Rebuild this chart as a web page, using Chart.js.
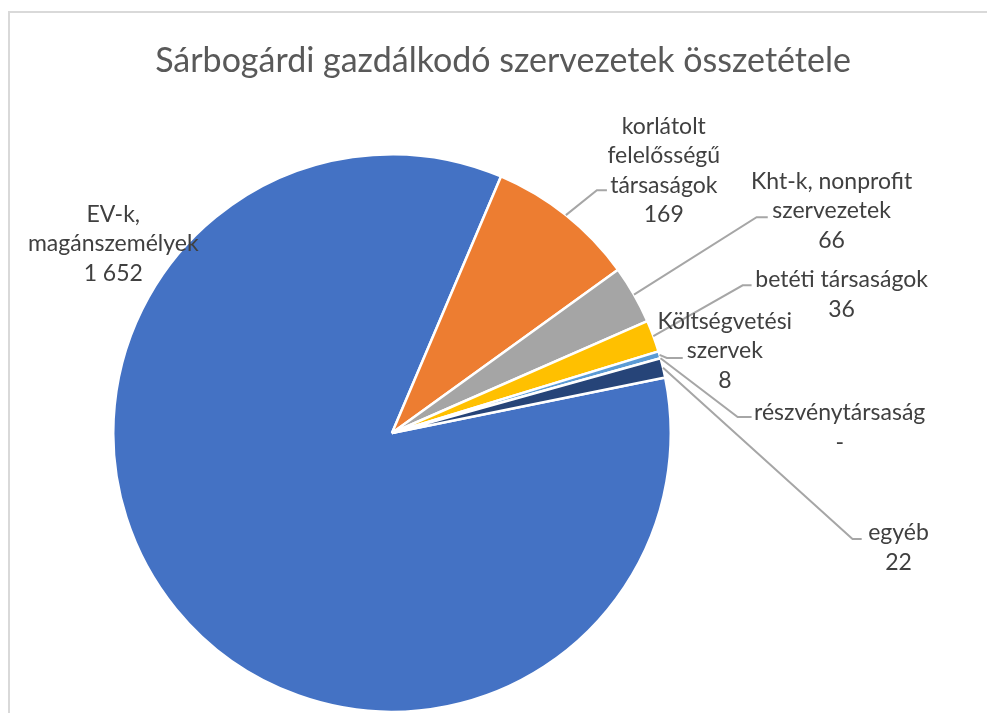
<!DOCTYPE html>
<html>
<head>
<meta charset="utf-8">
<script src="https://cdn.jsdelivr.net/npm/chart.js@4.4.1/dist/chart.umd.min.js"></script>
<style>
    html, body { margin: 0; padding: 0; background: #fff; overflow: hidden; }
    #wrap { position: absolute; left: 0; top: 0; width: 987px; height: 713px; }
</style>
</head>
<body>
<div id="wrap"><canvas id="pie-chart" width="987" height="713"></canvas></div>
<script>
// Chart data
const chartTitle = 'Sárbogárdi gazdálkodó szervezetek összetétele'
const categories = [
    ['EV-k,', 'magánszemélyek'],
    ['korlátolt', 'felelősségű', 'társaságok'],
    ['Kht-k, nonprofit', 'szervezetek'],
    ['betéti társaságok'],
    ['Költségvetési', 'szervek'],
    ['részvénytársaság'],
    ['egyéb']
]
const values = [1652, 169, 66, 36, 8, 0, 22]
const sliceColors = ['#4472C4', '#ED7D31', '#A5A5A5', '#FFC000', '#5B9BD5', '#70AD47', '#264478']

// Label placement, relative to the pie centre in units of the radius
// x, y = text centre / middle baseline; bx, by = leader bend; ex = leader end
const labelLayout = [
    { x: -1.0, y: -0.652 },
    { x: 0.975, y: -0.914, bx: 0.735, by: -0.871, ex: 0.771 },
    { x: 1.577, y: -0.771, bx: 1.308, by: -0.774, ex: 1.348 },
    { x: 1.613, y: -0.470, bx: 1.258, by: -0.530, ex: 1.290 },
    { x: 1.194, y: -0.269, bx: 0.986, by: -0.269, ex: 1.043 },
    { x: 1.606, y: 0.007, bx: 1.240, by: -0.057, ex: 1.290 },
    { x: 1.817, y: 0.437, bx: 1.652, by: 0.380, ex: 1.685 }
]

const fontFamily = 'Lato, "Open Sans", sans-serif'

function formatValue(v) {
    if (v == 0) return '-'
    return String(v).replace(/\B(?=(\d{3})+(?!\d))/g, ' ')
}

// draws frame, title and the data labels with leader lines
const excelLabels = {
    id: 'excelLabels',
    beforeDraw(chart) {
        const ctx = chart.ctx
        ctx.save()
        ctx.fillStyle = '#ffffff'
        ctx.fillRect(0, 0, chart.width, chart.height)
        ctx.strokeStyle = '#d9d9d9'
        ctx.lineWidth = 2
        ctx.beginPath()
        ctx.moveTo(9, chart.height)
        ctx.lineTo(9, 12)
        ctx.lineTo(chart.width, 12)
        ctx.stroke()

        ctx.fillStyle = '#595959'
        ctx.font = '34px ' + fontFamily
        ctx.textAlign = 'center'
        ctx.textBaseline = 'alphabetic'
        ctx.fillText(chartTitle, 503, 72)
        ctx.restore()
    },
    afterDraw(chart) {
        const ctx = chart.ctx
        const meta = chart.getDatasetMeta(0)
        const lineHeight = 29.5
        ctx.save()
        meta.data.forEach(function(arc, i) {
            const lay = labelLayout[i]
            const r = arc.outerRadius
            const cx = arc.x
            const cy = arc.y

            if (lay.bx !== undefined) {
                const mid = (arc.startAngle + arc.endAngle) / 2
                ctx.strokeStyle = '#a6a6a6'
                ctx.lineWidth = 2
                ctx.beginPath()
                ctx.moveTo(cx + Math.cos(mid) * r, cy + Math.sin(mid) * r)
                ctx.lineTo(cx + lay.bx * r, cy + lay.by * r)
                ctx.lineTo(cx + lay.ex * r, cy + lay.by * r)
                ctx.stroke()
            }

            const lines = categories[i].concat([formatValue(values[i])])
            const tx = cx + lay.x * r
            const ty = cy + lay.y * r
            ctx.fillStyle = '#404040'
            ctx.font = '23px ' + fontFamily
            ctx.textAlign = 'center'
            ctx.textBaseline = 'alphabetic'
            for (let j = 0; j < lines.length; j++) {
                ctx.fillText(lines[j], tx, ty + (j - (lines.length - 1) / 2) * lineHeight)
            }
        })
        ctx.restore()
    }
}

const config = {
    type: 'pie',
    data: {
        labels: categories.map(c => c.join(' ')),
        datasets: [{
            data: values,
            backgroundColor: sliceColors,
            borderColor: '#ffffff',
            borderWidth: 2.5,
            hoverOffset: 0
        }]
    },
    options: {
        responsive: false,
        animation: false,
        events: [],
        rotation: 78.5,
        layout: {
            padding: { left: 112, right: 315, top: 153, bottom: 0 }
        },
        plugins: {
            legend: { display: false },
            tooltip: { enabled: false },
            title: { display: false }
        }
    },
    plugins: [excelLabels]
}

const pieChart = new Chart(document.getElementById('pie-chart'), config)
</script>
</body>
</html>
